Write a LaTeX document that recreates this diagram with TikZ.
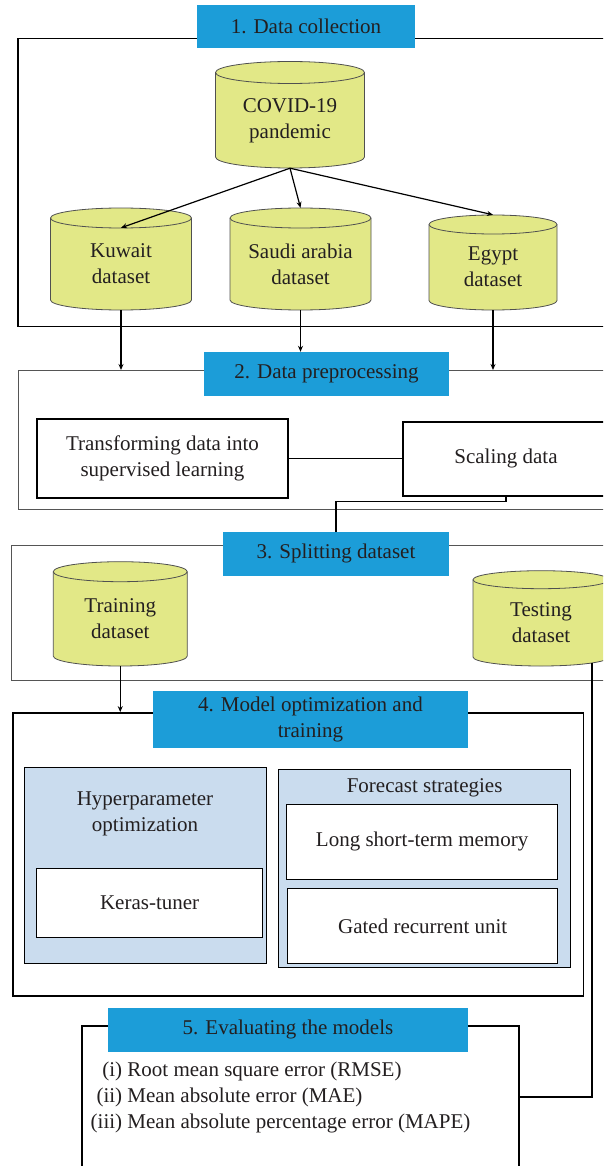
\documentclass[tikz,border=0pt]{standalone}
\usepackage{fontspec}
\setmainfont{Liberation Serif}
\usetikzlibrary{arrows.meta,calc}
\definecolor{titleblue}{HTML}{1C9DD8}
\definecolor{cylfill}{HTML}{E2E887}
\definecolor{cylline}{HTML}{505050}
\definecolor{lightpanel}{HTML}{CADCEE}
\definecolor{framegray}{HTML}{555555}
\definecolor{textc}{HTML}{231F20}
\tikzset{
  base/.style={font=\fontsize{21}{26}\selectfont, text=textc, align=center, inner sep=0pt},
  titlebox/.style={base, fill=titleblue, draw=none},
  framethick/.style={draw=black, line width=1.8pt, inner sep=0pt},
  framethin/.style={draw=framegray, line width=1pt, inner sep=0pt},
  whitebox/.style={base, draw=black, line width=1.8pt, fill=white},
  panel/.style={draw=black, line width=1pt, fill=lightpanel, inner sep=0pt},
  innerbox/.style={base, draw=black, line width=1pt, fill=white},
  cylbox/.style={inner sep=0pt, draw=none},
  cylshape/.style={fill=cylfill, draw=cylline, line width=0.8pt},
  cylfront/.style={draw=cylline, line width=0.8pt},
  arr/.style={line width=1.2pt, draw=black, -{Stealth[length=6pt,width=5pt]}},
  conn/.style={line width=1.5pt, draw=black},
}
\newcommand\dbcyl[8]{%
  \pgfmathsetmacro\cylw{2*#5}%
  \pgfmathsetmacro\cylh{#4-#3}%
  \pgfmathsetmacro\cylc{(#3+#4)/2}%
  \path[cylshape] (#2-#5,#3+#6) -- (#2-#5,#4-#6)
     arc[start angle=180,end angle=360,x radius=#5pt,y radius=#6pt]
     -- (#2+#5,#3+#6)
     arc[start angle=0,end angle=180,x radius=#5pt,y radius=#6pt] -- cycle;
  \draw[cylfront] (#2-#5,#3+#6) arc[start angle=180,end angle=360,x radius=#5pt,y radius=#6pt];
  \node[cylbox, minimum width=\cylw pt, minimum height=\cylh pt] (#1) at (#2,\cylc) {};
  \node[base] (#1t) at (#2,#7) {#8};
}
\begin{document}
\begin{tikzpicture}[x=1pt,y=-1pt]
\useasboundingbox (0,0) rectangle (603,1166);
\clip (0,0) rectangle (603,1166);
\fill[white] (0,0) rectangle (603,1166);

% frames
\node[framethick, minimum width=602pt, minimum height=288pt] (f1) at (319,182.5) {};
\node[framethin, minimum width=602pt, minimum height=139pt] (f2) at (319,440) {};
\node[framethin, minimum width=608.5pt, minimum height=135pt] (f3) at (315.75,612.5) {};
\node[framethick, minimum width=570.5pt, minimum height=282.7pt] (f4) at (298.25,854.35) {};
\node[framethick, minimum width=437pt, minimum height=164pt] (f5) at (300.5,1108) {};

% section 1 cylinders
\dbcyl{cov}{290}{61.5}{168}{74.5}{11}{121}{COVID-19\\pandemic}
\dbcyl{kuw}{121}{208}{310}{70.5}{10}{264}{Kuwait\\dataset}
\dbcyl{sau}{300.5}{208}{310}{70.5}{10}{264}{Saudi arabia\\dataset}
\dbcyl{egy}{493}{215}{310}{64}{9.5}{267}{Egypt\\dataset}

% section 2 boxes
\node[whitebox, minimum width=251pt, minimum height=79.3pt] (trans) at (162.5,458.4) {Transforming data into\\supervised learning};
\node[whitebox, minimum width=206pt, minimum height=74pt] (scal) at (506,458.7) {};
\node[base] (scalt) at (506,458.7) {Scaling data};

% section 3 cylinders
\dbcyl{train}{120.25}{561.7}{666}{67}{10}{619}{Training\\dataset}
\dbcyl{test}{541}{570.7}{666}{68}{9}{623}{Testing\\dataset}

% section 4 panels
\node[panel, minimum width=242pt, minimum height=196.7pt] (hyp) at (145,865.35) {};
\node[base] (hypt) at (145,814) {Hyperparameter\\optimization};
\node[innerbox, minimum width=226.2pt, minimum height=69pt] (kt) at (149.6,902.5) {Keras-tuner};
\node[panel, minimum width=292.3pt, minimum height=198pt] (fc) at (424.65,868) {};
\node[base] (fct) at (424.6,788) {Forecast strategies};
\node[innerbox, minimum width=271.2pt, minimum height=75.7pt] (lstm) at (422.1,841.85) {Long short-term memory};
\node[innerbox, minimum width=270pt, minimum height=75pt] (gru) at (422.7,926.2) {Gated recurrent unit};

% section 5 text
\node[base, anchor=west, align=left] (evt) at (90.5,1097.3) {\begin{tabular}{@{}r@{\ }l@{}}(i)&Root mean square error (RMSE)\\(ii)&Mean absolute error (MAE)\\(iii)&Mean absolute percentage error (MAPE)\end{tabular}};

% titles
\node[titlebox, minimum width=218pt, minimum height=43pt] (t1) at (306,26.5) {1. Data collection};
\node[titlebox, minimum width=245pt, minimum height=44pt] (t2) at (326.5,374) {2. Data preprocessing};
\node[titlebox, minimum width=226pt, minimum height=43.7pt] (t3) at (336,553.9) {3. Splitting dataset};
\node[titlebox, minimum width=315pt, minimum height=56.7pt] (t4) at (310.5,719.4) {4. Model optimization and\\training};
\node[titlebox, minimum width=360pt, minimum height=43.7pt] (t5) at (288,1029.9) {5. Evaluating the models};

% connectors
\draw[arr] (cov.south) -- ([yshift=-20pt]kuw.north);
\draw[arr] (cov.south) -- (sau.north);
\draw[arr] (cov.south) -- (egy.north);
\draw[arr] (kuw.south) -- (kuw.south |- f2.north);
\draw[arr] (sau.south) -- (sau.south |- t2.north);
\draw[arr] (egy.south) -- (egy.south |- f2.north);
\draw[conn] (trans.east) -- (trans.east -| scal.west);
\draw[conn] (scal.south) -- ++(0,5) -| (t3.north);
\draw[arr] (train.south) -- (train.south |- f4.north);
\coordinate (tb) at ([xshift=51pt,yshift=3pt]test.south);
\draw[conn, line width=1.2pt] (tb) |- ([yshift=11pt]f5.east);
\end{tikzpicture}
\end{document}
